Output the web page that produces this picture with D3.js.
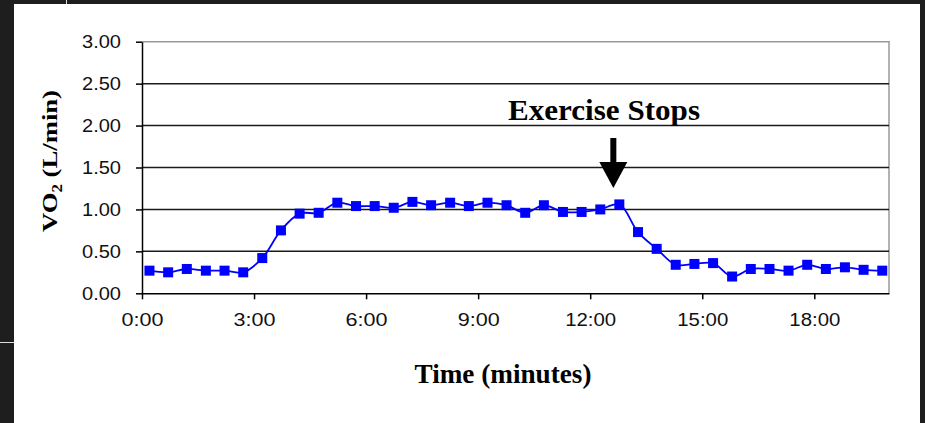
<!DOCTYPE html>
<html lang="en">
<head>
    <meta charset="UTF-8">
    <title>VO2 during exercise</title>
    <script src="https://d3js.org/d3.v7.min.js"></script>
    <style>
        body { margin: 0; background: #1e1e1e; }
        svg { display: block; }
        .tick text { font-family: "Liberation Sans", Arial, sans-serif; font-size: 18px; fill: #111; }
        .serif { font-family: "Liberation Serif", "Times New Roman", serif; font-weight: bold; fill: #000; }
    </style>
</head>
<body>
<div id="chart"></div>
<script>
    // Data (time in minutes, VO2 in L/min)
    const times = [0.20, 0.70, 1.20, 1.71, 2.21, 2.71, 3.22, 3.72, 4.22, 4.73,
                   5.23, 5.73, 6.23, 6.74, 7.24, 7.74, 8.25, 8.75, 9.25, 9.76,
                   10.26, 10.76, 11.27, 11.77, 12.27, 12.78, 13.28, 13.78, 14.29, 14.79,
                   15.29, 15.80, 16.30, 16.80, 17.31, 17.81, 18.31, 18.82, 19.32, 19.82];
    const vo2 = [0.27, 0.25, 0.29, 0.27, 0.27, 0.25, 0.42, 0.75, 0.95, 0.96,
                 1.08, 1.04, 1.04, 1.02, 1.09, 1.05, 1.08, 1.04, 1.08, 1.05,
                 0.96, 1.05, 0.97, 0.97, 1.00, 1.06, 0.73, 0.53, 0.34, 0.35,
                 0.36, 0.20, 0.29, 0.29, 0.27, 0.34, 0.29, 0.31, 0.28, 0.27];
    const xTicks = [0, 3, 6, 9, 12, 15, 18];
    const yTicks = [0, 0.5, 1, 1.5, 2, 2.5, 3];
    const stopTime = 12.78; // where the arrow points

    const width = 925, height = 423;
    const svg = d3.select('#chart').append('svg')
        .attr('width', width)
        .attr('height', height);

    // dark backdrop + white panel
    svg.append('rect').attr('width', width).attr('height', height).attr('fill', '#1e1e1e');
    svg.append('rect').attr('x', 14).attr('y', 4).attr('width', 906).attr('height', 419).attr('fill', '#fff');
    svg.append('line').attr('x1', 66.5).attr('x2', 66.5).attr('y1', 0).attr('y2', 4).attr('stroke', '#ddd');
    svg.append('line').attr('x1', 0).attr('x2', 14).attr('y1', 342.5).attr('y2', 342.5).attr('stroke', '#ddd');

    const x = d3.scaleLinear().domain([0, 20]).range([142, 889]);
    const y = d3.scaleLinear().domain([0, 3]).range([293.3, 41.7]);

    // plot border (gray, top and right)
    svg.append('path')
        .attr('d', `M${x(0)},${y(3)}H${x(20)}V${y(0)}`)
        .attr('fill', 'none').attr('stroke', '#999').attr('stroke-width', 1.5);

    // gridlines
    svg.append('g').selectAll('line')
        .data(yTicks.filter(d => d > 0 && d < 3))
        .join('line')
        .attr('x1', x(0)).attr('x2', x(20))
        .attr('y1', d => y(d)).attr('y2', d => y(d))
        .attr('stroke', '#1a1a1a').attr('stroke-width', 1.5);

    const fmtTime = m => `${Math.floor(m)}:${String(Math.round((m % 1) * 60)).padStart(2, '0')}`;

    const xAxis = svg.append('g')
        .attr('transform', `translate(0,${y(0)})`)
        .call(d3.axisBottom(x).tickValues(xTicks).tickFormat(fmtTime).tickSize(6).tickPadding(14).tickSizeOuter(0));
    const yAxis = svg.append('g')
        .attr('transform', `translate(${x(0)},0)`)
        .call(d3.axisLeft(y).tickValues(yTicks).tickFormat(d3.format('.2f')).tickSize(6).tickPadding(15).tickSizeOuter(0));

    [xAxis, yAxis].forEach(g => {
        g.select('.domain').attr('stroke', '#000').attr('stroke-width', 1.5);
        g.selectAll('.tick line').attr('stroke', '#000').attr('stroke-width', 1.5);
    });
    yAxis.selectAll('.tick text').attr('textLength', 39).attr('lengthAdjust', 'spacingAndGlyphs');
    xAxis.selectAll('.tick text')
        .attr('textLength', d => d >= 10 ? 51 : 42)
        .attr('lengthAdjust', 'spacingAndGlyphs');

    // series line + square markers
    const pts = times.map((t, i) => [t, vo2[i]]);
    svg.append('path')
        .datum(pts)
        .attr('fill', 'none')
        .attr('stroke', '#0000ff')
        .attr('stroke-width', 1.8)
        .attr('d', d3.line().x(d => x(d[0])).y(d => y(d[1])).curve(d3.curveCatmullRom));

    const sq = 10;
    svg.append('g').selectAll('rect')
        .data(pts)
        .join('rect')
        .attr('x', d => x(d[0]) - sq / 2)
        .attr('y', d => y(d[1]) - sq / 2)
        .attr('width', sq).attr('height', sq)
        .attr('fill', '#0000ff');

    // annotation
    svg.append('text').attr('class', 'serif')
        .attr('x', 508).attr('y', 120)
        .attr('font-size', 29)
        .attr('textLength', 192).attr('lengthAdjust', 'spacingAndGlyphs')
        .text('Exercise Stops');

    const ax = x(stopTime) - 6;
    svg.append('rect').attr('x', ax - 3).attr('y', 138).attr('width', 6).attr('height', 26).attr('fill', '#000');
    svg.append('path')
        .attr('d', `M${ax - 14},162L${ax + 14},162L${ax},188Z`)
        .attr('fill', '#000');

    // axis titles
    svg.append('text').attr('class', 'serif')
        .attr('x', 503).attr('y', 383)
        .attr('text-anchor', 'middle')
        .attr('font-size', 27)
        .attr('textLength', 177).attr('lengthAdjust', 'spacingAndGlyphs')
        .text('Time (minutes)');

    const yt = svg.append('text').attr('class', 'serif')
        .attr('transform', 'translate(57,161) rotate(-90)')
        .attr('text-anchor', 'middle')
        .attr('font-size', 22)
        .attr('textLength', 142).attr('lengthAdjust', 'spacingAndGlyphs');
    yt.append('tspan').text('VO');
    yt.append('tspan').attr('font-size', 14).attr('dy', 5).text('2');
    yt.append('tspan').attr('dy', -5).text(' (L/min)');
</script>
</body>
</html>
